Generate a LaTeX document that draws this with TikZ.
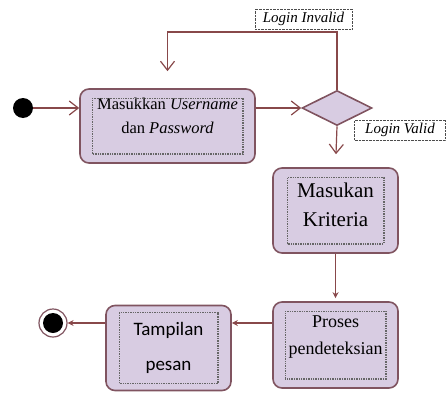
\documentclass[tikz,border=0pt]{standalone}
\usepackage{fontspec}
\setmainfont{Liberation Serif}
\newfontfamily\calibrifont{Carlito}
\usepackage{xcolor}
\definecolor{aktfill}{RGB}{216,204,226}
\definecolor{aktborder}{RGB}{128,84,96}
\definecolor{alurline}{RGB}{136,72,74}
\usepackage{tikz}
\usetikzlibrary{shapes.geometric,arrows.meta,positioning,calc}

\begin{document}
\begin{tikzpicture}[x=1pt,y=1pt,
    aktivitas/.style={draw=aktborder, fill=aktfill, line width=1.6pt, rounded corners=9pt, align=center, inner sep=0pt},
    keputusan/.style={diamond, draw=aktborder, fill=aktfill, line width=1.6pt, aspect=2, minimum width=70pt, minimum height=35pt, inner sep=0pt},
    labelkotak/.style={draw=black!70, densely dotted, fill=white, font=\itshape\fontsize{15}{16}\selectfont, inner sep=2pt, minimum height=20pt},
    alur/.style={draw=alurline, line width=1.2pt, -{Straight Barb[length=9pt,width=14pt,line width=1.2pt]}},
    alurkecil/.style={draw=alurline, line width=1.2pt, -{Stealth[length=6pt,width=6pt]}}]
\useasboundingbox (0,0) rectangle (446,392);

% Start and end states
\node[circle, fill=black, minimum size=20pt, inner sep=0pt] (mulai) at (23,284) {};
\node[circle, draw=aktborder, fill=white, line width=1.2pt, minimum size=28pt, inner sep=0pt] (akhir) at (53,69) {};
\node[circle, fill=black, minimum size=20pt, inner sep=0pt] (akhirdalam) at (akhir) {};

% Activities
\node[aktivitas, minimum width=175pt, minimum height=74pt, text depth=20pt, font=\fontsize{16.5}{24}\selectfont] (login) at (167.5,266) {Masukkan \textit{Username}\\dan \textit{Password}};
\node[keputusan] (cek) at (337,284) {};
\node[aktivitas, minimum width=125pt, minimum height=85pt, text depth=12pt, font=\fontsize{21}{29}\selectfont] (kriteria) at (335.5,181.5) {Masukan\\Kriteria};
\node[aktivitas, minimum width=125pt, minimum height=86pt, text depth=20pt, font=\fontsize{18}{27}\selectfont] (proses) at (335.5,47) {Proses\\pendeteksian};
\node[aktivitas, minimum width=125pt, minimum height=85pt, font=\calibrifont\fontsize{19}{35}\selectfont] (tampilan) at (168.5,44) {Tampilan\\pesan};

% Dotted text frames inside the activities
\foreach \n/\dx/\dy in {login/13/10, kriteria/15/10, proses/13/10, tampilan/14/8} {
    \draw[black!60, densely dotted, line width=1.4pt] ([shift={(\dx,\dy)}]\n.south west) rectangle ([shift={(-\dx,-\dy)}]\n.north east);
}

% Guard labels
\node[labelkotak, minimum width=97pt] (invalid) at (303.5,373) {Login Invalid};
\node[labelkotak, minimum width=91pt] (valid) at (400,262) {Login Valid};

% Flow
\coordinate (putar) at (337,360);
\draw[alur] (mulai) -- (mulai -| login.west);
\draw[alur] (login.east |- cek) -- (cek.west);
\draw[alur, shorten >=17pt] (cek.north) -- (putar) -| (login.north);
\draw[alur, shorten >=13pt] (cek.south) -- (kriteria.north);
\draw[alurkecil, shorten >=3pt] (kriteria.south) -- (proses.north);
\draw[alurkecil] (proses.west |- akhir) -- (tampilan.east |- akhir);
\draw[alurkecil] (tampilan.west |- akhir) -- (akhir);
\end{tikzpicture}
\end{document}
